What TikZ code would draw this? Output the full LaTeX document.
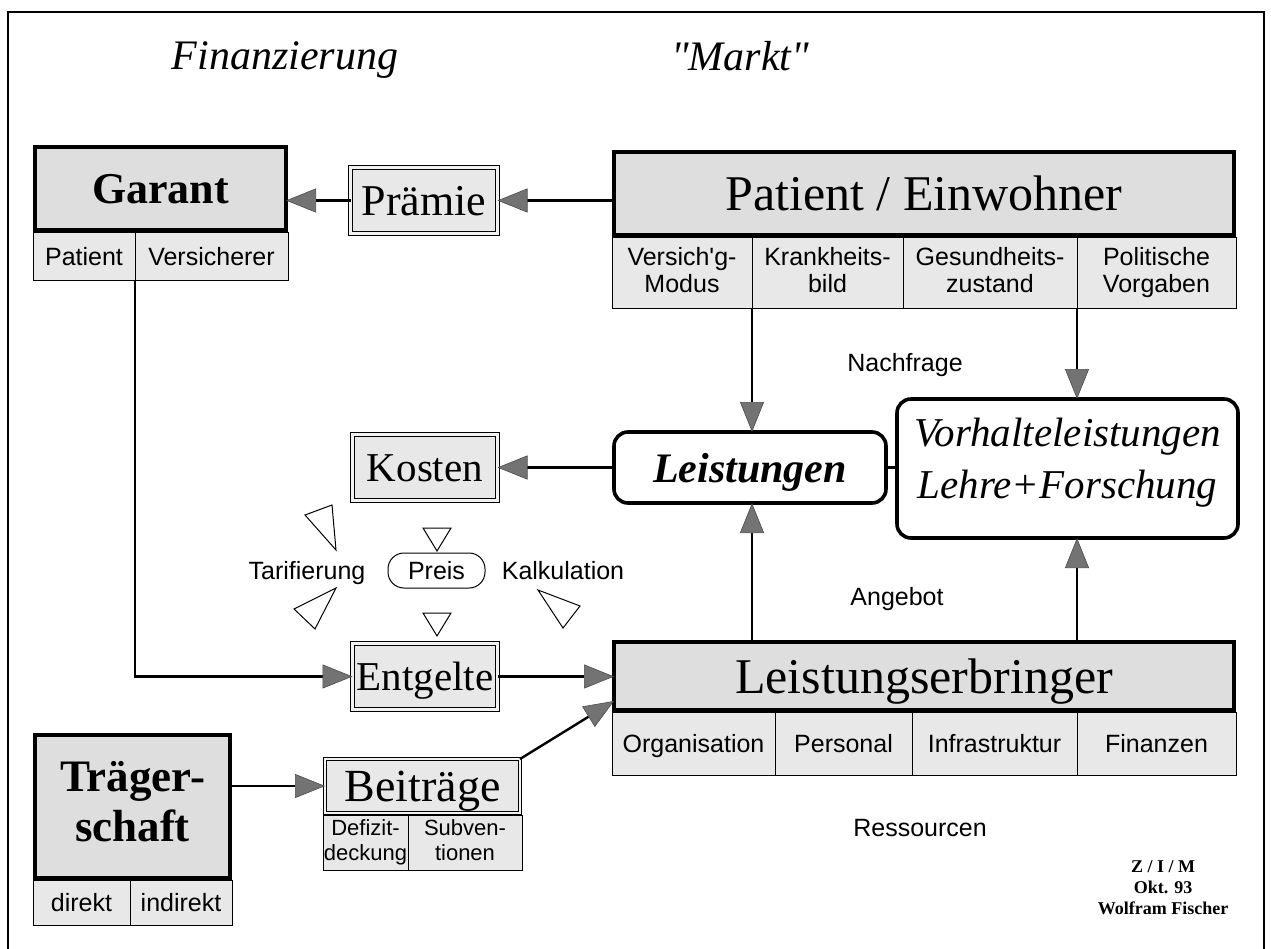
\documentclass[tikz,border=0pt]{standalone}
\usepackage{fontspec}
\setmainfont{Liberation Serif}
\newfontfamily\lab{Liberation Sans}
\newfontfamily\qserif{Liberation Serif}
\usetikzlibrary{arrows.meta,calc}

\newcommand{\fs}[2]{\fontsize{#1}{#2}\selectfont}
\newcommand{\eqline}{\vphantom{Ag}}
\newcommand{\capline}{\vphantom{A}}

\begin{document}
\begin{tikzpicture}[x=1pt,y=-1pt,
  every node/.style={inner sep=0pt, outer sep=0pt,
    execute at begin node=\eqline, execute at end node=\eqline},
  oneline/.style={execute at begin node=\capline, execute at end node={}, text depth=0pt},
  mainbox/.style={draw, line width=4pt, fill=black!13, align=center},
  cellbox/.style={draw, line width=0.9pt, fill=black!9, align=center, font=\lab\fs{25}{27}},
  dblbox/.style={draw, line width=0.8pt, double=black!5, double distance=2.6pt, fill=black!9, align=center},
  roundbox/.style={draw, line width=3.6pt, rounded corners=14pt, fill=white, align=center},
  pill/.style={draw, line width=1pt, rounded corners=16pt, fill=white, font=\lab\fs{25}{28}},
  lbl/.style={font=\lab\fs{25}{28}},
  title/.style={font=\qserif\itshape\fs{42}{46}},
  arr/.style={line width=2.4pt, -{Triangle[length=30pt,width=24pt,line width=0.6pt,fill=black!55,color=black!70]}},
  plain/.style={line width=2.4pt},
  opentri/.style={draw, line width=1pt, fill=white, line join=miter}
]
\useasboundingbox (0,0) rectangle (1271,949);

% outer frame (open at the bottom)
\draw[line width=1.2pt] (8,949) -- (8,12) -- (1264,12) -- (1264,949);

% headings
\node[title] (tfin) at (285,60) {Finanzierung};
\node[title] (tmar) at (740,60) {"Markt"};

% Garant with its two parts
\node[mainbox, oneline, minimum width=251, minimum height=83, font=\bfseries\fs{44}{50}] (gar) at (160.5,188.5) {Garant};
\node[cellbox, oneline, minimum width=102, minimum height=48] (gc1) at (84,256) {Patient};
\node[cellbox, oneline, minimum width=153, minimum height=48] (gc2) at (211.5,256) {Versicherer};

% premium
\node[dblbox, oneline, minimum width=147, minimum height=66, font=\fs{44}{50}] (prm) at (424,200.5) {Prämie};

% patient / inhabitant with four attributes
\node[mainbox, oneline, minimum width=620, minimum height=83, font=\fs{50}{56}] (pat) at (924,193.5) {Patient / Einwohner};
\node[cellbox, minimum width=140, minimum height=71] (pc1) at (682,272.5) {Versich'g-\\Modus};
\node[cellbox, minimum width=151, minimum height=71] (pc2) at (827.5,272.5) {Krankheits-\\bild};
\node[cellbox, minimum width=174, minimum height=71] (pc3) at (990,272.5) {Gesundheits-\\zustand};
\node[cellbox, minimum width=159, minimum height=71] (pc4) at (1156.5,272.5) {Politische\\Vorgaben};

% services
\node[roundbox, oneline, minimum width=272, minimum height=71, font=\bfseries\itshape\fs{42}{48}] (lst) at (750,467.5) {Leistungen};
\node[roundbox, minimum width=341, minimum height=139] (vor) at (1067.5,468.5) {};
\node[align=center, font=\itshape\fs{41}{52}] (vortxt) at (1067.5,463) {Vorhalteleistungen\\Lehre+Forschung};

% costs, price, fees
\node[dblbox, oneline, minimum width=145, minimum height=66, font=\fs{41}{48}] (kos) at (425,467.5) {Kosten};
\node[pill, oneline, minimum width=97, minimum height=35] (prs) at (436.5,570.5) {Preis};
\node[lbl, oneline] (tar) at (307,570) {Tarifierung};
\node[lbl, oneline] (kal) at (563,570) {Kalkulation};
\node[dblbox, oneline, minimum width=145, minimum height=66, font=\fs{41}{48}] (ent) at (425,676.5) {Entgelte};

% provider with its resources
\node[mainbox, oneline, minimum width=620, minimum height=68, font=\fs{50}{56}] (le) at (924,676) {Leistungserbringer};
\node[cellbox, oneline, minimum width=163, minimum height=63] (lc1) at (693.5,743.5) {Organisation};
\node[cellbox, oneline, minimum width=137, minimum height=63] (lc2) at (843.5,743.5) {Personal};
\node[cellbox, oneline, minimum width=165, minimum height=63] (lc3) at (994.5,743.5) {Infrastruktur};
\node[cellbox, oneline, minimum width=159, minimum height=63] (lc4) at (1156.5,743.5) {Finanzen};

% contributions
\node[dblbox, oneline, minimum width=195, minimum height=54, font=\fs{46}{52}] (bei) at (422.5,786) {Beiträge};
\node[cellbox, minimum width=85, minimum height=55, font=\lab\fs{22}{25}] (bc1) at (365.5,842.5) {Defizit-\\deckung};
\node[cellbox, minimum width=114, minimum height=55, font=\lab\fs{22}{25}] (bc2) at (465,842.5) {Subven-\\tionen};

% sponsorship
\node[mainbox, minimum width=195, minimum height=143, font=\bfseries\fs{45}{50}] (trg) at (132.5,806.5) {Träger-\\schaft};
\node[cellbox, oneline, minimum width=97, minimum height=45] (tc1) at (81.5,902.5) {direkt};
\node[cellbox, oneline, minimum width=102, minimum height=45] (tc2) at (181,902.5) {indirekt};

% flow labels
\node[lbl, oneline] (nach) at (905,362) {Nachfrage};
\node[lbl, oneline] (ang) at (897,596) {Angebot};
\node[lbl, oneline] (res) at (920,828) {Ressourcen};

% signature
\node[align=center, font=\bfseries\fs{18}{21}] (sig) at (1163,890) {Z / I / M\\Okt. 93\\Wolfram Fischer};

% connectors
\draw[arr] (pat.west |- prm.east) -- (prm.east);
\draw[arr] (prm.west) -- (gar.east |- prm.west);
\draw[arr] (pc1.south east) -- (pc1.south east |- lst.north);
\draw[arr] (pc3.south east) -- (pc3.south east |- vor.north);
\draw[arr] (lst.west) -- (kos.east);
\draw[plain] (lst.east) -- (vor.west |- lst.east);
\draw[arr] (pc1.south east |- le.north) -- (pc1.south east |- lst.south);
\draw[arr] (pc3.south east |- le.north) -- (pc3.south east |- vor.south);
\draw[arr] (gc1.south east) |- (ent.west);
\draw[arr] (ent.east) -- (le.west |- ent.east);
\draw[arr] (trg.east |- bei.west) -- (bei.west);
\draw[arr] (bei.north east) -- ([yshift=9pt]le.south west);

% open pointers around the price
\draw[opentri] (305,515) -- (332,505) -- (336,550) -- cycle;
\draw[opentri] (423,528) -- (451,528) -- (437,551) -- cycle;
\draw[opentri] (294,609) -- (315,629) -- (336,588) -- cycle;
\draw[opentri] (423,613) -- (451,613) -- (437,636) -- cycle;
\draw[opentri] (538,590) -- (580,606) -- (563,628) -- cycle;
\end{tikzpicture}
\end{document}
